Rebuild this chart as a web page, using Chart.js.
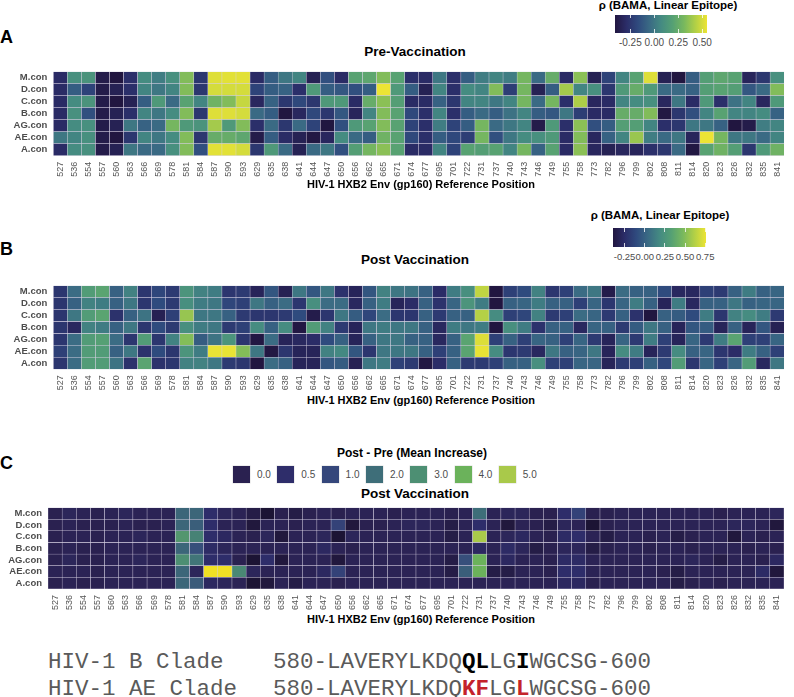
<!DOCTYPE html>
<html lang="en">
<head>
<meta charset="utf-8">
<title>BAMA linear epitope heatmaps</title>
<script src="https://cdn.jsdelivr.net/npm/chart.js@4.4.1/dist/chart.umd.min.js"></script>
<style>
  body { margin: 0; background: #fff; }
  #lienzo { position: relative; width: 794px; height: 697px; overflow: hidden; font-family: "Liberation Sans", Arial, sans-serif; color: #000; }
  .abs { position: absolute; white-space: nowrap; line-height: 1; }
  .letra { font-size: 18px; font-weight: bold; left: 0; }
  .titulo { font-size: 13.5px; font-weight: bold; width: 300px; text-align: center; }
  .eje { font-size: 11px; font-weight: bold; width: 400px; text-align: center; }
  .leyTit { font-size: 11.5px; font-weight: bold; width: 240px; text-align: center; }
  .tick { font-size: 10px; color: #4d4d4d; width: 40px; text-align: center; line-height: 12px; }
  .seq { font-family: "Liberation Mono", monospace; font-size: 22.5px; color: #5a5a5a; }
  .seq b { color: #000; }
  .seq b.rojo { color: #c4232b; }
  canvas { position: absolute; left: 0; }
</style>
</head>
<body>
<div id="lienzo">
  <!-- Panel A -->
  <div class="abs letra" style="top:28px">A</div>
  <div class="abs leyTit" style="left:548px;top:0px">ρ (BAMA, Linear Epitope)</div>
  <div class="abs titulo" style="left:265px;top:45px">Pre-Vaccination</div>
  <canvas id="chartPre" width="794" height="120" style="top:60px"></canvas>
  <div class="abs eje" style="left:221px;top:178.6px">HIV-1 HXB2 Env (gp160) Reference Position</div>

  <!-- Panel B -->
  <div class="abs letra" style="top:240px">B</div>
  <div class="abs leyTit" style="left:540px;top:210.3px">ρ (BAMA, Linear Epitope)</div>
  <div class="abs titulo" style="left:265px;top:253.3px">Post Vaccination</div>
  <canvas id="chartPost" width="794" height="120" style="top:274px"></canvas>
  <div class="abs eje" style="left:221px;top:394.6px">HIV-1 HXB2 Env (gp160) Reference Position</div>

  <!-- Panel C -->
  <div class="abs letra" style="top:453.5px">C</div>
  <div class="abs leyTit" style="left:292px;top:446.7px;font-size:12px">Post - Pre (Mean Increase)</div>
  <div class="abs titulo" style="left:265px;top:486.5px">Post Vaccination</div>
  <canvas id="chartDif" width="794" height="116" style="top:496px"></canvas>
  <div class="abs eje" style="left:221px;top:613.6px">HIV-1 HXB2 Env (gp160) Reference Position</div>

  <!-- Secuencias -->
  <div class="abs seq" style="left:48px;top:651px">HIV-1 B Clade</div>
  <div class="abs seq" style="left:273px;top:651px">580-LAVERYLKDQ<b>QL</b>LG<b>I</b>WGCSG-600</div>
  <div class="abs seq" style="left:48px;top:677.5px">HIV-1 AE Clade</div>
  <div class="abs seq" style="left:273px;top:677.5px">580-LAVERYLKDQ<b class="rojo">KF</b>LG<b class="rojo">L</b>WGCSG-600</div>
</div>

<script>
// Posiciones HXB2 (eje x) y consensos (eje y, de arriba a abajo)
const posiciones = ["527","536","554","557","560","563","566","569","578","581","584","587","590","593",
  "629","635","638","641","644","647","650","656","662","665","671","674","677","695","701","722","731",
  "737","740","743","746","749","755","758","773","782","796","799","802","808","811","814","820","823",
  "826","832","835","841"];
const filas = ["M.con","D.con","C.con","B.con","AG.con","AE.con","A.con"];

// A: rho pre-vacunación
const preM  = [-0.3,0.1,0.12,-0.38,-0.41,-0.28,0.08,0.02,0.1,0.33,-0.25,0.52,0.53,0.53,-0.3,-0.1,0.0,0.05,-0.35,-0.15,-0.3,0.2,0.22,0.33,0.2,-0.28,-0.3,0.0,-0.28,-0.1,0.02,0.05,0.02,0.3,-0.05,0.25,-0.3,0.35,-0.35,-0.2,0.05,0.2,0.52,-0.35,-0.41,-0.1,0.18,0.22,0.2,-0.33,-0.25,0.1];
const preD  = [-0.3,-0.1,-0.2,-0.38,-0.35,-0.28,0.05,0.0,0.05,0.33,-0.25,0.5,0.5,0.5,-0.2,-0.1,-0.08,-0.28,0.15,-0.1,-0.12,-0.15,-0.1,0.55,0.15,-0.1,-0.35,0.05,-0.28,0.08,0.05,0.33,-0.22,0.3,-0.35,-0.1,0.4,0.05,0.1,-0.25,0.15,0.25,0.15,-0.05,-0.05,-0.08,0.18,0.2,0.18,-0.12,-0.05,0.33];
const preC  = [-0.3,0.08,0.12,-0.38,-0.41,-0.35,-0.1,0.15,-0.05,0.2,0.05,0.28,0.33,0.47,-0.32,-0.08,-0.25,-0.18,-0.25,0.15,0.15,-0.3,0.25,0.35,0.18,-0.3,-0.3,-0.08,-0.25,0.05,0.05,0.0,0.05,0.3,-0.05,0.3,-0.28,0.42,-0.32,-0.3,0.05,0.08,0.1,-0.32,0.0,-0.3,0.15,-0.28,-0.02,0.05,-0.32,0.15];
const preB  = [-0.3,0.1,-0.15,-0.38,-0.35,-0.28,0.05,0.0,0.08,0.33,-0.25,0.52,0.52,0.5,-0.05,-0.1,-0.41,-0.32,-0.18,-0.25,-0.12,-0.33,0.05,0.33,0.2,-0.18,-0.28,0.05,-0.28,-0.1,-0.05,-0.1,-0.02,0.05,-0.1,-0.12,0.0,-0.22,-0.3,-0.3,0.25,0.25,0.33,-0.4,-0.25,-0.15,0.05,0.2,0.05,0.05,0.08,-0.08];
const preAG = [-0.3,0.08,0.1,-0.38,-0.35,0.0,-0.08,-0.05,0.3,0.15,0.12,0.4,0.15,0.33,-0.28,-0.05,-0.25,-0.05,-0.2,-0.41,-0.15,0.15,0.2,0.33,0.2,-0.2,-0.28,0.02,-0.2,-0.1,0.3,-0.05,0.0,0.05,-0.38,0.15,-0.28,0.35,-0.15,-0.1,0.18,0.18,0.05,-0.28,-0.25,0.0,0.0,-0.08,-0.41,-0.38,0.02,0.05];
const preAE = [0.0,0.05,0.1,-0.38,-0.41,-0.25,0.05,0.0,0.08,0.33,-0.25,0.25,0.25,0.22,-0.38,-0.1,-0.3,-0.35,-0.4,-0.32,0.08,-0.05,-0.1,0.28,0.2,-0.18,-0.28,-0.1,-0.18,-0.22,0.3,-0.15,0.0,0.08,0.1,0.15,-0.3,0.33,-0.32,-0.08,0.05,0.38,0.02,-0.05,0.0,-0.33,0.55,0.3,0.0,0.0,-0.05,0.05];
const preA  = [-0.3,0.08,0.1,-0.38,-0.35,0.0,-0.05,-0.05,0.1,0.33,-0.15,0.53,0.53,0.5,-0.25,0.15,-0.05,-0.35,-0.05,0.0,-0.15,0.18,0.3,0.35,0.2,-0.3,-0.3,0.05,-0.2,0.2,0.18,0.2,0.05,0.3,-0.08,0.2,-0.3,0.35,-0.32,-0.35,-0.32,-0.33,-0.28,-0.25,-0.05,-0.4,0.2,0.28,0.18,-0.25,0.15,0.28];

// B: rho post-vacunación
const postM  = [-0.2,0.05,0.3,0.35,0.0,0.15,-0.2,-0.12,-0.18,0.25,0.15,0.12,-0.2,-0.18,-0.3,-0.05,-0.32,0.1,-0.05,0.1,-0.22,-0.3,-0.05,0.15,0.1,0.08,0.0,-0.25,0.12,0.22,0.65,-0.39,-0.15,-0.1,0.15,-0.2,-0.15,0.05,0.1,-0.35,0.05,0.0,0.0,-0.1,-0.28,-0.28,-0.15,-0.18,0.0,0.12,0.0,0.02];
const postD  = [-0.2,0.0,0.15,0.12,0.0,0.1,-0.2,-0.1,-0.18,0.22,0.12,0.1,-0.12,-0.15,0.1,0.0,0.05,-0.2,0.22,0.05,0.05,-0.28,0.0,0.12,-0.3,-0.25,0.0,-0.22,0.02,0.25,0.12,-0.39,0.0,0.02,0.12,0.0,0.0,-0.15,0.02,-0.2,0.02,0.12,0.0,-0.3,0.12,-0.28,0.0,0.0,0.1,0.0,0.02,0.02];
const postC  = [-0.2,0.1,0.3,0.35,-0.22,0.0,0.08,-0.32,-0.15,0.55,0.1,0.1,0.0,-0.18,-0.2,-0.2,-0.18,-0.1,-0.35,-0.2,0.1,-0.02,-0.12,0.05,-0.2,-0.2,0.0,-0.18,0.0,0.0,0.62,0.2,-0.15,-0.12,0.15,-0.18,-0.15,0.05,0.02,-0.18,0.0,-0.22,-0.39,0.0,-0.02,-0.1,0.12,-0.2,0.15,0.2,0.12,-0.18];
const postB  = [-0.2,-0.28,0.15,0.12,0.0,0.1,-0.2,-0.1,-0.18,0.22,0.12,0.1,-0.18,-0.15,0.2,0.0,0.2,-0.38,0.3,0.15,-0.18,-0.3,0.1,0.12,0.1,0.1,0.0,-0.28,0.12,0.1,0.12,-0.39,0.22,0.12,-0.22,0.0,0.0,-0.28,0.02,0.0,-0.18,-0.02,0.1,0.0,-0.3,-0.05,-0.02,-0.3,0.0,-0.3,-0.05,-0.32];
const postAG = [-0.2,0.05,0.3,0.33,0.05,-0.2,0.3,-0.2,0.15,0.5,-0.02,0.08,0.25,-0.2,-0.38,0.05,-0.3,-0.28,-0.25,-0.1,0.0,-0.3,0.0,0.1,0.1,0.0,0.0,-0.28,0.0,0.35,0.72,-0.15,0.0,-0.15,0.02,0.0,-0.15,0.02,-0.18,-0.3,0.02,-0.18,0.12,-0.15,-0.3,0.02,-0.18,0.12,0.35,-0.15,-0.15,0.02];
const postAE = [-0.15,0.05,0.3,0.3,0.0,0.1,-0.22,-0.1,-0.2,0.25,0.12,0.75,0.75,0.5,0.1,-0.38,-0.2,-0.3,-0.3,0.15,0.18,-0.05,-0.2,0.1,0.1,0.1,0.0,-0.15,0.0,0.35,0.75,0.2,-0.2,-0.18,-0.28,0.1,0.0,0.02,0.1,-0.3,0.2,0.12,-0.3,-0.18,0.2,0.0,0.02,-0.2,-0.25,0.12,0.0,-0.15];
const postA  = [-0.2,0.05,0.3,0.3,0.08,-0.22,0.35,-0.22,-0.2,0.15,0.15,0.1,-0.18,-0.2,-0.39,0.05,0.0,-0.3,-0.3,-0.05,-0.02,-0.32,0.1,0.12,-0.15,-0.18,-0.38,-0.25,0.0,-0.18,-0.18,-0.15,0.0,0.0,0.22,-0.15,-0.15,0.02,0.02,-0.3,-0.18,-0.15,0.0,-0.12,0.3,-0.2,0.02,-0.15,0.02,0.3,-0.28,0.1];

// C: aumento medio post - pre
const difM  = [0.0,0.2,0.1,0.0,0.1,0.2,0.1,0.1,0.1,1.8,1.8,0.5,0.2,0.1,-0.1,-0.3,0.0,-0.1,0.0,0.1,0.0,0.1,0.1,0.1,0.0,0.1,0.1,0.1,0.0,0.1,2.0,0.1,0.2,0.2,0.0,0.0,0.5,0.9,0.0,0.0,0.1,0.1,0.1,0.1,0.1,0.1,0.1,0.0,0.1,0.1,0.1,0.2];
const difD  = [0.0,0.1,0.0,0.0,0.0,0.1,0.0,0.0,0.1,1.8,1.6,0.5,0.1,0.1,-0.2,0.1,0.1,0.0,0.1,0.1,0.9,-0.2,0.0,0.0,0.1,0.2,0.2,0.1,-0.1,0.1,0.5,0.1,-0.2,0.1,0.0,-0.1,0.2,0.1,-0.3,0.0,0.1,0.1,0.1,0.1,0.1,0.1,0.1,0.1,0.2,0.2,0.1,-0.2];
const difC  = [0.0,0.1,0.1,0.0,0.1,0.1,0.2,0.1,0.1,3.2,2.6,0.5,0.3,0.1,0.0,0.2,-0.2,0.1,0.1,0.2,-0.3,0.2,0.1,0.1,0.1,0.1,0.1,0.1,-0.1,0.1,5.0,0.1,0.2,0.3,0.1,0.0,0.4,0.5,0.1,-0.1,0.1,0.1,0.0,0.1,-0.1,0.0,0.1,0.1,-0.2,0.1,0.0,0.1];
const difB  = [0.0,0.1,0.0,0.0,0.1,0.1,0.1,0.1,0.1,1.8,1.2,0.4,0.2,0.1,0.1,0.1,0.1,0.1,0.1,0.3,0.1,0.0,0.1,0.1,0.1,0.1,0.1,0.1,0.1,0.1,0.3,0.1,0.4,0.2,-0.1,0.0,0.2,0.2,-0.1,0.0,0.1,0.1,0.0,0.1,0.1,0.0,0.1,0.1,0.1,0.0,0.1,0.0];
const difAG = [0.0,0.2,0.0,0.0,0.1,0.1,0.2,0.1,0.1,3.0,2.2,0.5,0.5,0.0,-0.3,0.5,-0.2,0.1,0.1,0.1,-0.2,0.1,0.1,0.1,0.1,0.1,0.1,0.1,-0.1,1.2,4.0,0.1,0.3,0.1,0.1,0.0,0.4,0.4,0.1,0.1,0.1,0.1,0.1,0.1,0.1,0.2,0.1,-0.1,0.1,0.1,0.0,0.3];
const difAE = [0.1,0.1,0.1,0.0,0.1,0.1,0.1,0.1,0.1,1.8,0.2,6.0,6.0,2.8,0.2,0.1,0.1,0.1,0.1,0.3,0.9,0.1,0.1,0.1,0.1,0.1,0.1,0.1,-0.1,1.6,4.0,-0.1,-0.1,0.1,0.1,0.0,0.5,0.5,0.1,0.1,0.1,0.1,0.1,0.0,-0.1,0.1,0.1,0.1,0.1,0.1,0.4,-0.2];
const difA  = [0.0,0.1,0.0,0.0,0.1,0.1,0.1,0.1,0.1,1.8,1.5,0.3,0.2,0.1,-0.3,-0.2,0.1,-0.1,0.1,0.1,0.0,0.1,0.1,0.1,0.1,0.1,0.1,0.1,0.1,0.1,0.1,0.1,0.1,0.1,0.1,0.1,0.3,0.3,0.0,0.1,0.1,0.1,0.1,0.1,-0.1,0.0,0.1,0.0,0.1,0.1,0.1,0.1];

// Leyendas
const rangoPre = [-0.41, 0.55];
const ticksPre = [-0.25, 0, 0.25, 0.5];
const rangoPost = [-0.39, 0.76];
const ticksPost = [-0.25, 0, 0.25, 0.5, 0.75];
const nivelesDif = [0, 0.5, 1, 2, 3, 4, 5];

const pre  = { "M.con": preM, "D.con": preD, "C.con": preC, "B.con": preB, "AG.con": preAG, "AE.con": preAE, "A.con": preA };
const post = { "M.con": postM, "D.con": postD, "C.con": postC, "B.con": postB, "AG.con": postAG, "AE.con": postAE, "A.con": postA };
const dif  = { "M.con": difM, "D.con": difD, "C.con": difC, "B.con": difB, "AG.con": difAG, "AE.con": difAE, "A.con": difA };

// Colores tipo viridis (algo apagados, como en la figura)
const paleta = ["#211640","#2b2d68","#2f4a7e","#3a6a84","#448a82","#55a074","#78b85e","#b2d046","#ece434"];
const paradasDif = [[-0.3,"#1c1434"],[0,"#2a2150"],[0.5,"#2e2d6a"],[1,"#35477b"],[2,"#3e6e79"],[3,"#4d8f73"],[4,"#6bb25b"],[5,"#a9c94a"],[6,"#f0e024"]];

function hexARgb(h) {
  const n = parseInt(h.slice(1), 16);
  return [n >> 16, (n >> 8) & 255, n & 255];
}
function interpolar(paradas, v) {
  if (v <= paradas[0][0]) return paradas[0][1];
  for (let i = 1; i < paradas.length; i++) {
    if (v <= paradas[i][0]) {
      const [v0, c0] = paradas[i - 1];
      const [v1, c1] = paradas[i];
      const t = (v - v0) / (v1 - v0);
      const a = hexARgb(c0), b = hexARgb(c1);
      return `rgb(${a.map((x, k) => Math.round(x + (b[k] - x) * t)).join(",")})`;
    }
  }
  return paradas[paradas.length - 1][1];
}
function paradasContinuas(rango) {
  return paleta.map((c, i) => [rango[0] + (rango[1] - rango[0]) * i / (paleta.length - 1), c]);
}

Chart.defaults.font.family = "'Liberation Sans', Arial, sans-serif";

// Heatmap como barras apiladas: cada fila es un dataset, cada celda una barra de alto 1
function crearHeatmap(id, valores, colorFn, anchoEje, altoEje, padding) {
  const abajoArriba = filas.slice().reverse();
  const datasets = abajoArriba.map(f => ({
    label: f,
    data: posiciones.map(() => 1),
    backgroundColor: valores[f].map(colorFn),
    borderColor: "#d6d0e2",
    borderWidth: 0.5,
    borderSkipped: false,
    barPercentage: 1,
    categoryPercentage: 1
  }));
  const ctx = document.getElementById(id).getContext("2d");
  return new Chart(ctx, {
    type: "bar",
    data: { labels: posiciones, datasets },
    options: {
      responsive: false,
      animation: false,
      events: [],
      devicePixelRatio: 1,
      layout: { padding },
      plugins: { legend: { display: false }, tooltip: { enabled: false } },
      scales: {
        x: {
          stacked: true,
          grid: { display: false, drawTicks: false },
          border: { display: false },
          ticks: { autoSkip: false, minRotation: 90, maxRotation: 90, padding: 6, font: { size: 9 }, color: "#555" },
          afterFit: s => { s.height = altoEje; }
        },
        y: {
          stacked: true,
          min: 0,
          max: 7,
          grid: { display: false, drawTicks: false },
          border: { display: false },
          afterBuildTicks: s => { s.ticks = abajoArriba.map((_, i) => ({ value: i + 0.5 })); },
          ticks: {
            autoSkip: false,
            callback: v => abajoArriba[Math.floor(v)],
            padding: 6,
            font: { size: 9.5, weight: "bold" },
            color: "#4d4d4d"
          },
          afterFit: s => { s.width = anchoEje; }
        }
      }
    }
  });
}

// Barra de color continua con sus etiquetas
function crearBarra(left, top, ancho, alto, rango, ticks, topEtiq, tamEtiq) {
  const lienzo = document.getElementById("lienzo");
  const barra = document.createElement("div");
  barra.className = "abs";
  barra.style.cssText = `left:${left}px;top:${top}px;width:${ancho}px;height:${alto}px;background:linear-gradient(to right, ${paleta.join(",")});`;
  lienzo.appendChild(barra);
  ticks.forEach(t => {
    const x = left + (t - rango[0]) / (rango[1] - rango[0]) * ancho;
    [top, top + alto - 3.5].forEach(y => {
      const m = document.createElement("div");
      m.className = "abs";
      m.style.cssText = `left:${x - 0.5}px;top:${y}px;width:1px;height:3.5px;background:rgba(255,255,255,0.8);`;
      lienzo.appendChild(m);
    });
    const et = document.createElement("div");
    et.className = "abs tick";
    et.style.left = (x - 20) + "px";
    et.style.top = topEtiq + "px";
    et.style.fontSize = tamEtiq + "px";
    et.textContent = t.toFixed(2);
    lienzo.appendChild(et);
  });
}

// Leyenda por niveles del panel C
function crearLeyendaDif() {
  const lienzo = document.getElementById("lienzo");
  nivelesDif.forEach((n, i) => {
    const x = 233 + i * 44.3;
    const k = document.createElement("div");
    k.className = "abs";
    k.style.cssText = `left:${x}px;top:466px;width:17px;height:17px;background:${interpolar(paradasDif, n)};box-shadow:0 0 0 0.5px #ddd;`;
    lienzo.appendChild(k);
    const et = document.createElement("div");
    et.className = "abs tick";
    et.style.cssText = `left:${x + 24}px;top:468.5px;width:auto;text-align:left;`;
    et.textContent = n.toFixed(1);
    lienzo.appendChild(et);
  });
}

const paradasPre = paradasContinuas(rangoPre);
const paradasPost = paradasContinuas(rangoPost);

crearHeatmap("chartPre", pre, v => interpolar(paradasPre, v), 53.3, 24.3, { left: 0, right: 4, top: 6.7, bottom: 0 });
crearHeatmap("chartPost", post, v => interpolar(paradasPost, v), 53.3, 24.7, { left: 0, right: 4, top: 6.7, bottom: 0 });
crearHeatmap("chartDif", dif, v => interpolar(paradasDif, v), 48, 23, { left: 0, right: 10, top: 5.7, bottom: 0 });

crearBarra(615, 14.5, 92, 18, rangoPre, ticksPre, 37, 10);
crearBarra(613.3, 228.3, 92.7, 18.4, rangoPost, ticksPost, 250.5, 9.5);
crearLeyendaDif();
</script>
</body>
</html>
